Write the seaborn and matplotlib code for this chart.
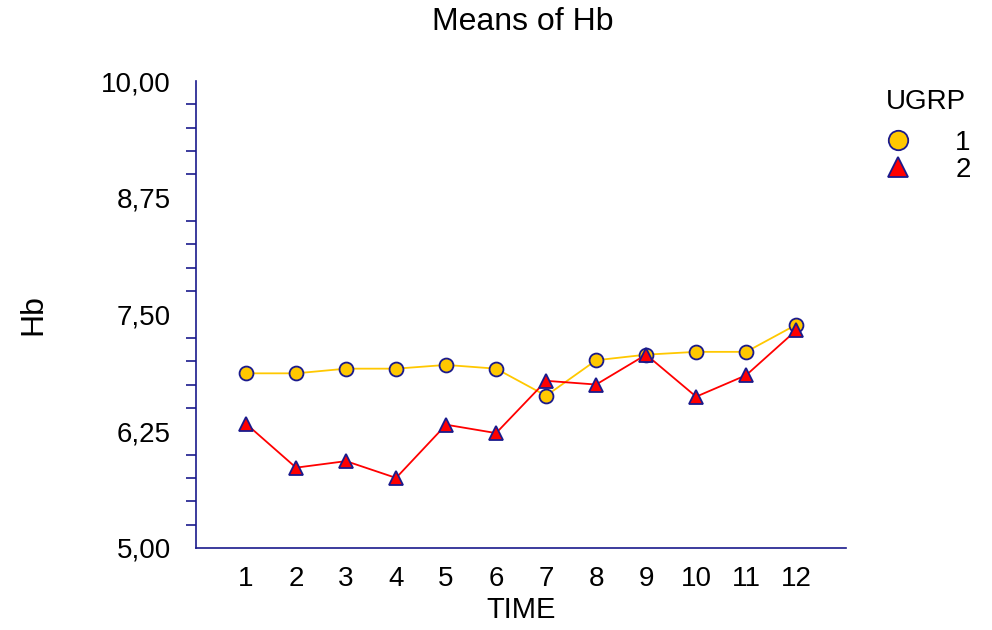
import pandas as pd
import matplotlib
matplotlib.use('Agg')
import matplotlib.pyplot as plt
from matplotlib.lines import Line2D
from matplotlib.ticker import FuncFormatter, MultipleLocator
import seaborn as sns

# values
time = [1, 2, 3, 4, 5, 6, 7, 8, 9, 10, 11, 12]
hb_grp1 = [6.87, 6.87, 6.92, 6.92, 6.96, 6.92, 6.63, 7.01, 7.07, 7.10, 7.10, 7.39]
hb_grp2 = [6.33, 5.86, 5.93, 5.75, 6.32, 6.23, 6.79, 6.75, 7.07, 6.62, 6.85, 7.33]
groups = ['1', '2']

df = pd.DataFrame({
    'TIME': time + time,
    'Hb': hb_grp1 + hb_grp2,
    'UGRP': [groups[0]] * len(time) + [groups[1]] * len(time),
})

sns.set_style('white')
plt.rcParams['font.family'] = ['Liberation Sans', 'DejaVu Sans']
plt.rcParams['text.color'] = 'black'
plt.rcParams['axes.labelcolor'] = 'black'

navy = '#1a1a8c'
pal = {'1': '#ffc800', '2': '#ff0000'}
marks = {'1': 'o', '2': '^'}

fig = plt.figure(figsize=(9.92, 6.3), dpi=100)
ax = fig.add_axes([0.1976, 0.1302, 0.853 - 0.1976, 0.8714 - 0.1302])

sns.lineplot(data=df, x='TIME', y='Hb', hue='UGRP', style='UGRP', palette=pal,
             markers=marks, dashes=False, markersize=10, markeredgecolor=navy,
             markeredgewidth=1.3, linewidth=1.3, legend=False, ax=ax)

ax.set_xlim(0, 13)
ax.set_ylim(5, 10)
ax.set_xticks(range(0, 14))
ax.set_xticklabels([''] + [str(t) for t in time] + [''])
ax.yaxis.set_major_locator(MultipleLocator(1.25))
ax.yaxis.set_minor_locator(MultipleLocator(0.25))
ax.yaxis.set_major_formatter(FuncFormatter(lambda v, p: f'{v:.2f}'.replace('.', ',')))

for s in ['top', 'right']:
    ax.spines[s].set_visible(False)
for s in ['left', 'bottom']:
    ax.spines[s].set_color(navy)
    ax.spines[s].set_linewidth(1.2)

ax.tick_params(axis='both', which='both', direction='out', color=navy, width=1.2,
               labelsize=20, labelcolor='black')
ax.tick_params(axis='y', which='major', length=10, pad=8)
ax.tick_params(axis='y', which='minor', length=7, left=True)
ax.tick_params(axis='x', which='major', length=7, pad=6)

ax.set_xlabel('TIME', fontsize=21, labelpad=3)
ax.set_ylabel('Hb', fontsize=23, labelpad=38)
fig.text(0.527, 0.965, 'Means of Hb', fontsize=23, ha='center', va='center')

# legend: title as its own text, entries below
fig.text(0.893, 0.838, 'UGRP', fontsize=20, ha='left', va='center')
handles = [Line2D([], [], linestyle='none', marker=marks[g], markersize=14,
                  markerfacecolor=pal[g], markeredgecolor=navy, markeredgewidth=1.3)
           for g in groups]
leg = fig.legend(handles, groups, loc='upper left',
                 bbox_to_anchor=(0.893, 0.794), frameon=False, fontsize=20,
                 handlelength=0.9, handletextpad=1.6,
                 labelspacing=0.05, borderpad=0, borderaxespad=0)

fig.savefig('out.png', dpi=100)
